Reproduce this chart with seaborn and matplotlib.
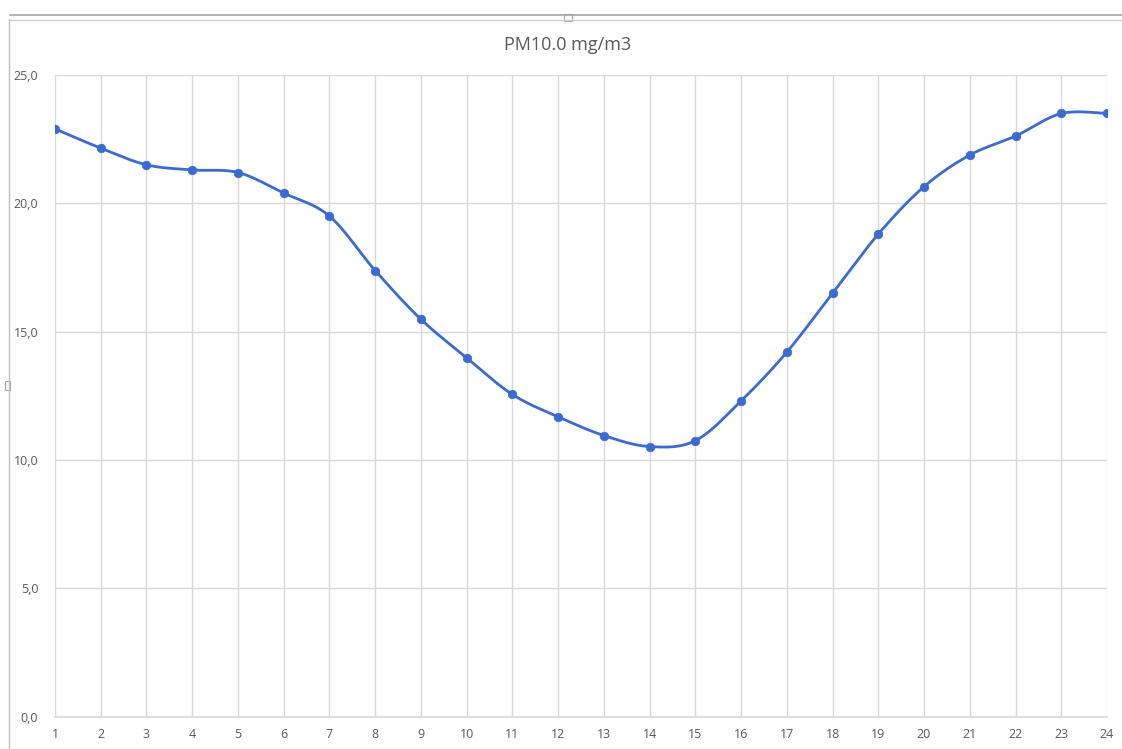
import numpy as np
import pandas as pd
import matplotlib
matplotlib.use("Agg")
import matplotlib.pyplot as plt
from matplotlib.lines import Line2D
from matplotlib.patches import Rectangle
import seaborn as sns

# Hourly PM10 readings
hours = list(range(1, 25))
pm10 = [22.9, 22.15, 21.5, 21.3, 21.2, 20.4, 19.5, 17.38, 15.48, 13.98,
        12.55, 11.68, 10.95, 10.52, 10.75, 12.3, 14.2, 16.5, 18.8, 20.65,
        21.88, 22.62, 23.5, 23.5]
y_ticks = [0, 5, 10, 15, 20, 25]
title = "PM10.0 mg/m3"

LINE_BLUE = "#3B6AD3"
TEXT_GRAY = "#595959"
GRID_GRAY = "#D9D9D9"


def smooth_curve(x, y, steps=30):
    """Cardinal (Catmull-Rom) spline through the points, like a smoothed line chart."""
    x = np.asarray(x, float)
    y = np.asarray(y, float)
    px = np.concatenate([[x[0]], x, [x[-1]]])
    py = np.concatenate([[y[0]], y, [y[-1]]])
    xs, ys = [], []
    t = np.linspace(0, 1, steps, endpoint=False)
    for i in range(1, len(px) - 2):
        p0, p1, p2, p3 = (np.array([px[j], py[j]]) for j in (i - 1, i, i + 1, i + 2))
        c1 = p1 + (p2 - p0) / 6.0
        c2 = p2 - (p3 - p1) / 6.0
        b = ((1 - t) ** 3)[:, None] * p1 + (3 * (1 - t) ** 2 * t)[:, None] * c1 \
            + (3 * (1 - t) * t ** 2)[:, None] * c2 + (t ** 3)[:, None] * p2
        xs.append(b[:, 0])
        ys.append(b[:, 1])
    xs.append([x[-1]])
    ys.append([y[-1]])
    return np.concatenate(xs), np.concatenate(ys)


sns.set_theme(style="white")
plt.rcParams["font.family"] = ["Open Sans", "DejaVu Sans"]

fig = plt.figure(figsize=(11.22, 7.49), dpi=100)
ax = fig.add_axes([55 / 1122, 1 - 716.5 / 749, (1107 - 55) / 1122, (716.5 - 75) / 749])

df = pd.DataFrame({"hour": hours, "pm10": pm10})
sx, sy = smooth_curve(hours, pm10)
curve = pd.DataFrame({"hour": sx, "pm10": sy})

sns.lineplot(data=curve, x="hour", y="pm10", ax=ax, color=LINE_BLUE,
             linewidth=2.0, sort=False, zorder=3)
sns.scatterplot(data=df, x="hour", y="pm10", ax=ax, color=LINE_BLUE,
                s=38, edgecolor=LINE_BLUE, linewidth=0.5, zorder=4)

ax.set_xlim(1, 24)
ax.set_ylim(0, 25)
ax.set_xticks(hours)
ax.set_xticklabels([str(h) for h in hours])
ax.set_yticks(y_ticks)
ax.set_yticklabels([f"{v:.1f}".replace(".", ",") for v in y_ticks])
ax.set_xlabel("")
ax.set_ylabel("")

ax.grid(True, color=GRID_GRAY, linewidth=1.0)
ax.set_axisbelow(True)
for side in ["top", "right", "left"]:
    ax.spines[side].set_visible(False)
ax.spines["bottom"].set_color(GRID_GRAY)
ax.spines["bottom"].set_linewidth(1.2)
ax.tick_params(axis="both", length=0, labelsize=9, labelcolor=TEXT_GRAY)
ax.tick_params(axis="x", pad=8)
ax.tick_params(axis="y", pad=12)

fig.text(568 / 1122, 1 - 45 / 749, title, ha="center", va="center",
         fontsize=13, color=TEXT_GRAY)

# Chart frame edges and sizing handles
fig.add_artist(Line2D([10 / 1122, 1.0], [1 - 15 / 749] * 2, color="#A6A6A6", linewidth=1.2))
fig.add_artist(Line2D([10 / 1122, 1.0], [1 - 19.5 / 749] * 2, color="#D0D0D0", linewidth=1.0))
fig.add_artist(Line2D([8.5 / 1122] * 2, [0, 1 - 19 / 749], color="#BFBFBF", linewidth=1.0))
fig.add_artist(Rectangle((564 / 1122, 1 - 21 / 749), 8 / 1122, 7 / 749,
                         facecolor="white", edgecolor="#A6A6A6", linewidth=0.8))
fig.add_artist(Rectangle((5 / 1122, 1 - 390 / 749), 5 / 1122, 9 / 749,
                         facecolor="white", edgecolor="#A6A6A6", linewidth=0.8))

fig.savefig("out.png", dpi=100, facecolor="white")
